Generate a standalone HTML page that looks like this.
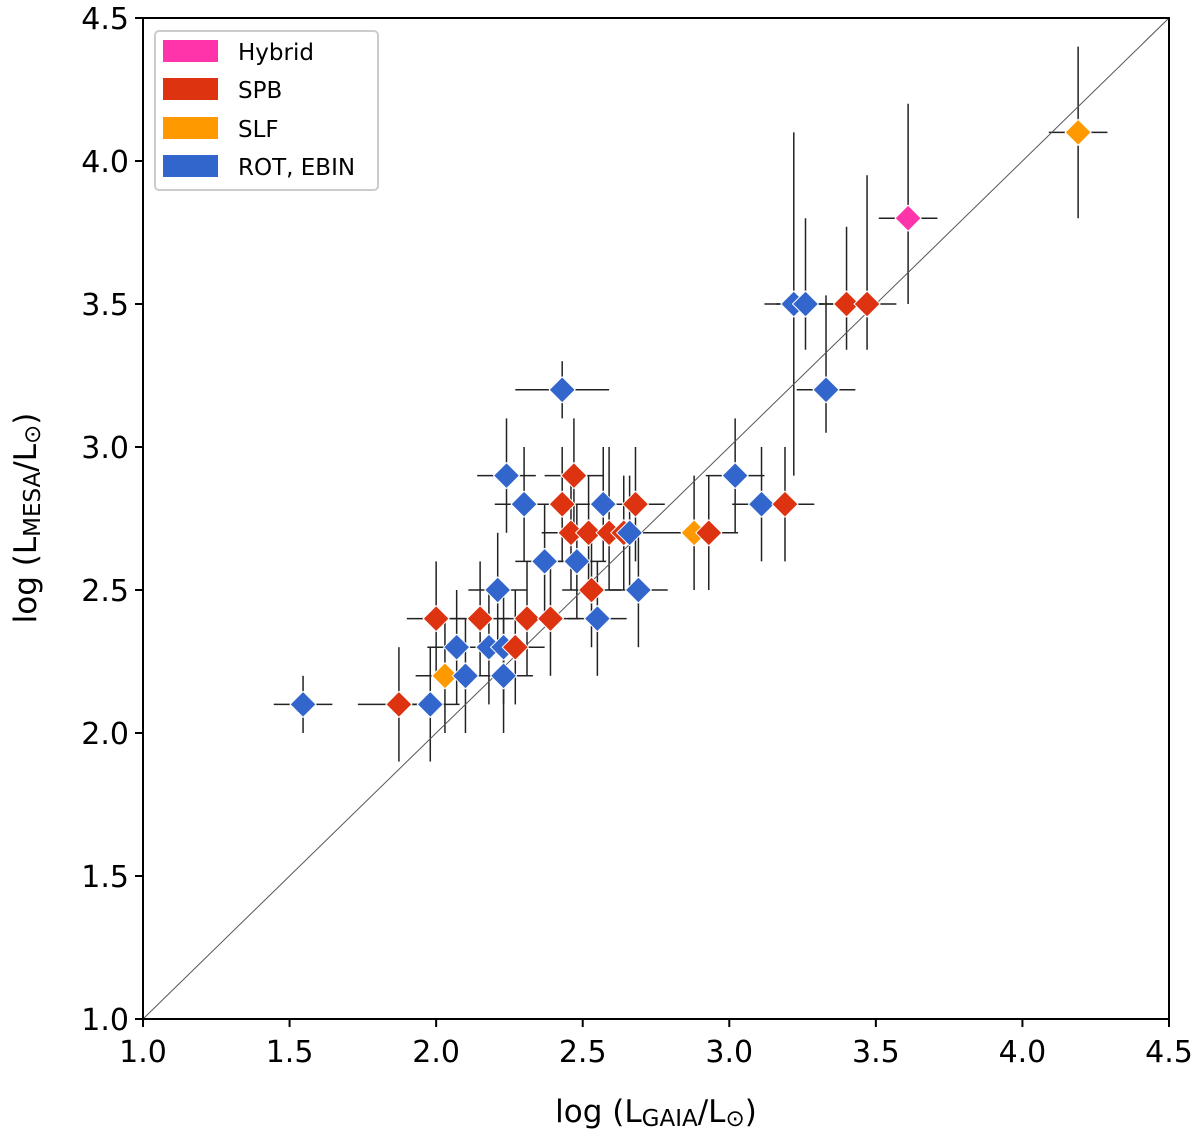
<!DOCTYPE html>
<html><head><meta charset="utf-8"><style>
body{margin:0;background:#fff;}
svg{display:block;font-family:"DejaVu Sans","Liberation Sans",sans-serif;}
</style></head><body>
<svg id="chart" width="1200" height="1137">
<rect x="0" y="0" width="1200" height="1137" fill="#fff"/>
<g id="errs"></g>
<line id="diag" stroke="#555" stroke-width="1"/>
<g id="pts"></g>
<g id="axes"></g>
<g>
<rect x="155" y="31" width="223" height="159" rx="4" fill="#fff" stroke="#ccc" stroke-width="2"/>
<g><rect x="163" y="40" width="55" height="22" fill="#ff33aa"/><text x="238" y="60" font-size="23">Hybrid</text></g>
<g><rect x="163" y="78" width="55" height="22" fill="#dd3311"/><text x="238" y="98" font-size="23">SPB</text></g>
<g><rect x="163" y="117" width="55" height="22" fill="#ff9900"/><text x="238" y="137" font-size="23">SLF</text></g>
<g><rect x="163" y="155" width="55" height="22" fill="#3366cc"/><text x="238" y="175" font-size="23">ROT, EBIN</text></g>
</g>
<text x="656" y="1122" font-size="31" text-anchor="middle">log (L<tspan font-size="23" dy="4">GAIA</tspan><tspan dy="-4">/L</tspan><tspan font-size="23" dy="4">⊙</tspan><tspan dy="-4">)</tspan></text>
<text transform="translate(36,518) rotate(-90)" font-size="31" text-anchor="middle">log (L<tspan font-size="23" dy="4">MESA</tspan><tspan dy="-4">/L</tspan><tspan font-size="23" dy="4">⊙</tspan><tspan dy="-4">)</tspan></text>
</svg>
<script>
const xVals=[1.546,1.873,1.98,2.03,2.10,2.07,2.18,2.23,2.23,2.27,2.0,2.15,2.21,2.31,2.39,2.55,2.37,2.48,2.53,2.69,2.24,2.30,2.47,2.43,2.57,2.68,2.46,2.52,2.59,2.64,2.66,2.43,2.88,2.93,3.02,3.11,3.19,3.33,3.22,3.26,3.40,3.47,3.61,4.19];
const yVals=[2.1,2.1,2.1,2.2,2.2,2.3,2.3,2.3,2.2,2.3,2.4,2.4,2.5,2.4,2.4,2.4,2.6,2.6,2.5,2.5,2.9,2.8,2.9,2.8,2.8,2.8,2.7,2.7,2.7,2.7,2.7,3.2,2.7,2.7,2.9,2.8,2.8,3.2,3.5,3.5,3.5,3.5,3.8,4.1];
const cats=["ROT","SPB","ROT","SLF","ROT","ROT","ROT","ROT","ROT","SPB","SPB","SPB","ROT","SPB","SPB","ROT","ROT","ROT","SPB","ROT","ROT","ROT","SPB","SPB","ROT","SPB","SPB","SPB","SPB","SPB","ROT","ROT","SLF","SPB","ROT","ROT","SPB","ROT","ROT","ROT","SPB","SPB","Hybrid","SLF"];
const xErr=[0.1,0.14,0.1,0.1,0.1,0.1,0.1,0.1,0.1,0.1,0.1,0.1,0.1,0.1,0.1,0.1,0.1,0.1,0.1,0.1,0.1,0.1,0.1,0.1,0.1,0.1,0.1,0.1,0.1,0.1,0.15,0.16,0.1,0.1,0.1,0.1,0.1,0.1,0.1,0.1,0.1,0.1,0.1,0.1];
const yErrLo=[0.1,0.2,0.2,0.2,0.2,0.2,0.2,0.2,0.2,0.2,0.2,0.2,0.2,0.2,0.2,0.2,0.2,0.2,0.2,0.2,0.2,0.2,0.2,0.2,0.2,0.2,0.2,0.2,0.2,0.2,0.2,0.1,0.2,0.2,0.2,0.2,0.2,0.15,0.6,0.16,0.16,0.16,0.3,0.3];
const yErrHi=[0.1,0.2,0.2,0.2,0.2,0.2,0.2,0.2,0.2,0.2,0.2,0.2,0.2,0.2,0.2,0.2,0.2,0.2,0.2,0.2,0.2,0.2,0.2,0.2,0.2,0.2,0.2,0.2,0.3,0.2,0.2,0.1,0.2,0.2,0.2,0.2,0.2,0.33,0.6,0.3,0.27,0.45,0.4,0.3];
const ticks=[1.0,1.5,2.0,2.5,3.0,3.5,4.0,4.5];
const tickLabels=["1.0","1.5","2.0","2.5","3.0","3.5","4.0","4.5"];
const colors={Hybrid:"#ff33aa",SPB:"#dd3311",SLF:"#ff9900",ROT:"#3366cc"};
const X0=143,X1=1169,Y0=1019,Y1=18;
const sx=v=>X0+(v-1)/3.5*(X1-X0);
const sy=v=>Y0-(v-1)/3.5*(Y0-Y1);
const NS="http://www.w3.org/2000/svg";
function mk(tag,attrs,parent){const e=document.createElementNS(NS,tag);for(const k in attrs)e.setAttribute(k,attrs[k]);parent.appendChild(e);return e;}
const errs=document.getElementById('errs'),pts=document.getElementById('pts'),axes=document.getElementById('axes');
const d=document.getElementById('diag');
d.setAttribute('x1',sx(1));d.setAttribute('y1',sy(1));d.setAttribute('x2',sx(4.5));d.setAttribute('y2',sy(4.5));
for(let i=0;i<xVals.length;i++){
  const cx=sx(xVals[i]),cy=sy(yVals[i]);
  const h=mk('line',{x1:sx(xVals[i]-xErr[i]),x2:sx(xVals[i]+xErr[i]),y1:cy,y2:cy,stroke:'#222','stroke-width':1.5},errs);
  
  
  const v=mk('line',{x1:cx,x2:cx,y1:sy(yVals[i]-yErrLo[i]),y2:sy(yVals[i]+yErrHi[i]),stroke:'#222','stroke-width':1.5},errs);
  
  
  const r=13;
  const p=mk('polygon',{points:`${cx},${cy-r} ${cx+r},${cy} ${cx},${cy+r} ${cx-r},${cy}`,fill:colors[cats[i]],stroke:'#fff','stroke-width':1},pts);
  
  
}
const fr=mk('rect',{x:X0,y:Y1,width:X1-X0,height:Y0-Y1,fill:'none',stroke:'#000','stroke-width':2},axes);


ticks.forEach((t,i)=>{
  mk('line',{x1:sx(t),x2:sx(t),y1:Y0,y2:Y0+8,stroke:'#000','stroke-width':2},axes);
  const tx=mk('text',{x:sx(t),y:Y0+43,'font-size':30,'text-anchor':'middle'},axes);
  tx.textContent=tickLabels[i];
  
  
  mk('line',{x1:X0-8,x2:X0,y1:sy(t),y2:sy(t),stroke:'#000','stroke-width':2},axes);
  const ty=mk('text',{x:X0-14,y:sy(t)+11,'font-size':30,'text-anchor':'end'},axes);
  ty.textContent=tickLabels[i];
  
  
});
</script>
</body></html>
